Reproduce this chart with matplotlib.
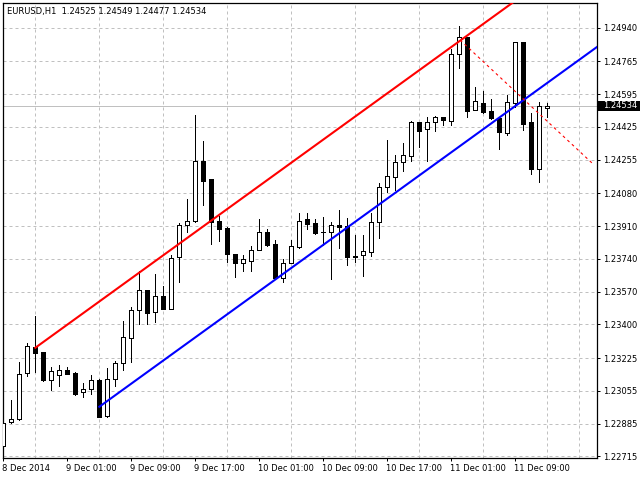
import matplotlib
matplotlib.use("Agg")
import matplotlib.pyplot as plt
import matplotlib.transforms as mtransforms
import numpy as np

# ---------------- data ----------------
chart_title = "EURUSD,H1  1.24525 1.24549 1.24477 1.24534"

opens = [1.22771, 1.22892, 1.22910, 1.23147, 1.23285, 1.23255, 1.23113, 1.23139, 1.23162, 1.23148,
         1.23048, 1.23064, 1.23112, 1.22927, 1.23115, 1.23198, 1.23331, 1.23473, 1.23577, 1.23463,
         1.23546, 1.23482, 1.23748, 1.23914, 1.23935, 1.24246, 1.24153, 1.23937, 1.23899, 1.23764,
         1.23717, 1.23727, 1.23785, 1.23880, 1.23816, 1.23641, 1.23720, 1.23803, 1.23947, 1.23926,
         1.23878, 1.23878, 1.23916, 1.23911, 1.23753, 1.23758, 1.23778, 1.23929, 1.24111, 1.24166,
         1.24244, 1.24275, 1.24449, 1.24412, 1.24449, 1.24476, 1.24457, 1.24801, 1.24889, 1.24511,
         1.24547, 1.24507, 1.24469, 1.24391, 1.24550, 1.24863, 1.24449, 1.24208, 1.24525]
highs = [1.22967, 1.23008, 1.23204, 1.23305, 1.23444, 1.23257, 1.23179, 1.23188, 1.23181, 1.23152,
         1.23095, 1.23138, 1.23115, 1.23174, 1.23209, 1.23418, 1.23490, 1.23679, 1.23579, 1.23663,
         1.23598, 1.23760, 1.23925, 1.24051, 1.24486, 1.24351, 1.24155, 1.23963, 1.23905, 1.23766,
         1.23759, 1.23808, 1.23947, 1.23894, 1.23838, 1.23738, 1.23836, 1.23978, 1.23978, 1.23947,
         1.23956, 1.23931, 1.23994, 1.23952, 1.23864, 1.23864, 1.23977, 1.24132, 1.24357, 1.24279,
         1.24340, 1.24457, 1.24452, 1.24478, 1.24483, 1.24478, 1.24830, 1.24948, 1.24891, 1.24630,
         1.24611, 1.24571, 1.24471, 1.24590, 1.24864, 1.24865, 1.24498, 1.24552, 1.24549]
lows = [1.22764, 1.22888, 1.22904, 1.23134, 1.23155, 1.23106, 1.23060, 1.23082, 1.23143, 1.23032,
        1.23025, 1.23038, 1.22918, 1.22921, 1.23081, 1.23165, 1.23204, 1.23404, 1.23404, 1.23414,
        1.23478, 1.23480, 1.23622, 1.23877, 1.23933, 1.24021, 1.23819, 1.23833, 1.23724, 1.23648,
        1.23679, 1.23679, 1.23784, 1.23805, 1.23634, 1.23622, 1.23719, 1.23798, 1.23894, 1.23868,
        1.23812, 1.23636, 1.23795, 1.23708, 1.23725, 1.23653, 1.23755, 1.23850, 1.24085, 1.24097,
        1.24197, 1.24248, 1.24322, 1.24249, 1.24403, 1.24435, 1.24435, 1.24732, 1.24478, 1.24510,
        1.24498, 1.24466, 1.24310, 1.24383, 1.24529, 1.24409, 1.24182, 1.24140, 1.24477]
closes = [1.22890, 1.22911, 1.23141, 1.23288, 1.23253, 1.23110, 1.23157, 1.23162, 1.23145, 1.23041,
          1.23064, 1.23110, 1.22921, 1.23115, 1.23200, 1.23333, 1.23473, 1.23577, 1.23461, 1.23546,
          1.23481, 1.23746, 1.23916, 1.23935, 1.24246, 1.24146, 1.23933, 1.23897, 1.23763, 1.23721,
          1.23739, 1.23785, 1.23878, 1.23814, 1.23642, 1.23717, 1.23805, 1.23937, 1.23923, 1.23876,
          1.23879, 1.23914, 1.23907, 1.23751, 1.23752, 1.23781, 1.23930, 1.24111, 1.24168, 1.24241,
          1.24279, 1.24449, 1.24405, 1.24449, 1.24476, 1.24459, 1.24801, 1.24889, 1.24509, 1.24559,
          1.24502, 1.24469, 1.24400, 1.24552, 1.24863, 1.24441, 1.24208, 1.24532, 1.24534]

time_labels = ["8 Dec 2014", "9 Dec 01:00", "9 Dec 09:00", "9 Dec 17:00", "10 Dec 01:00",
               "10 Dec 09:00", "10 Dec 17:00", "11 Dec 01:00", "11 Dec 09:00"]
bars_per_label = 8
bars_per_grid = 4

price_ticks = [1.22715, 1.22885, 1.23055, 1.23225, 1.23400, 1.23570, 1.23740,
               1.23910, 1.24080, 1.24255, 1.24425, 1.24595, 1.24765, 1.24940]
current_price = 1.24534

# equidistant channel (bar index, price) + slope per bar
upper_channel_start = (4, 1.23279)
lower_channel_start = (12, 1.22973)
channel_slope = 0.0003
# dashed trend line (bar index, price)
trend_x = [57.1, 73.75]
trend_y = [1.24875, 1.24231]

# ---------------- figure ----------------
PX = 0.72  # one pixel in points at 100 dpi
fig = plt.figure(figsize=(6.4, 4.8), dpi=100)
ax = fig.add_axes([3 / 640, 22 / 480, 594 / 640, 455 / 480])

O = np.array(opens); H = np.array(highs); L = np.array(lows); C = np.array(closes)
n = len(O)
x = np.arange(n)

ax.set_xlim(-0.04, 74.21)
ax.set_ylim(1.227072, 1.250673)

font = dict(family="DejaVu Sans", size=6.0)

# grids
ax.set_yticks(price_ticks)
ax.set_yticklabels([f"{t:.5f}" for t in price_ticks], **font)
ax.set_xticks(x[::bars_per_label][:len(time_labels)])
ax.set_xticklabels(time_labels, ha="left", **font)
ax.set_xticks(np.arange(0, 75, bars_per_grid), minor=True)
ax.grid(True, which="major", axis="y", color="#c0c0c0", linestyle=(0, (3, 3)), linewidth=PX)
ax.grid(True, which="minor", axis="x", color="#c0c0c0", linestyle=(0, (3, 3)), linewidth=PX)
ax.set_axisbelow(True)

ax.yaxis.tick_right()
ax.tick_params(axis="y", which="major", length=3 * PX, width=PX, pad=2.2, colors="black")
ax.tick_params(axis="x", which="major", length=3 * PX, width=PX, pad=2.0, colors="black")
ax.tick_params(axis="x", which="minor", length=0)
for lab in ax.get_xticklabels():
    lab.set_transform(lab.get_transform() + mtransforms.ScaledTranslation(-1.5 / 100, 0, fig.dpi_scale_trans))

for sp in ax.spines.values():
    sp.set_linewidth(0.9)
    sp.set_color("black")

# current price line
ax.axhline(current_price, color="#c0c0c0", linewidth=PX, zorder=1)

# candles
ax.vlines(x, L, H, color="black", linewidth=PX, zorder=3, antialiased=False)
bull = C >= O
ax.bar(x[bull], (C - O)[bull], bottom=O[bull], width=0.5, color="white",
       edgecolor="black", linewidth=PX, zorder=4, antialiased=False)
ax.bar(x[~bull], (O - C)[~bull], bottom=C[~bull], width=0.5, color="black",
       edgecolor="black", linewidth=PX, zorder=4, antialiased=False)

# channel lines
far = 80
ux = np.array([upper_channel_start[0], far])
ax.plot(ux, upper_channel_start[1] + channel_slope * (ux - upper_channel_start[0]),
        color="#ff0000", linewidth=1.5, zorder=5)
lx = np.array([lower_channel_start[0], far])
ax.plot(lx, lower_channel_start[1] + channel_slope * (lx - lower_channel_start[0]),
        color="#0000ff", linewidth=1.5, zorder=5)
ax.plot(trend_x, trend_y, color="#ff0000", linewidth=0.8, linestyle=(0, (2.5, 3)), zorder=5)

# current price box on axis
blend = mtransforms.blended_transform_factory(ax.transAxes, ax.transData)
box_h = 0.00052
ax.add_patch(plt.Rectangle((1.002, current_price - box_h / 2), 0.08, box_h, transform=blend,
                           facecolor="black", edgecolor="none", clip_on=False, zorder=6))
ax.text(1.0, current_price, f"{current_price:.5f}", color="white", va="center", ha="left",
        transform=blend + mtransforms.ScaledTranslation(6 / 100, 0, fig.dpi_scale_trans),
        zorder=7, clip_on=False, **font)

# title
ax.text(0.0, 1.0, chart_title, color="black", va="center", ha="left",
        transform=ax.transAxes + mtransforms.ScaledTranslation(4 / 100, -8 / 100, fig.dpi_scale_trans),
        zorder=7, **font)

fig.savefig("out.png", dpi=100)
